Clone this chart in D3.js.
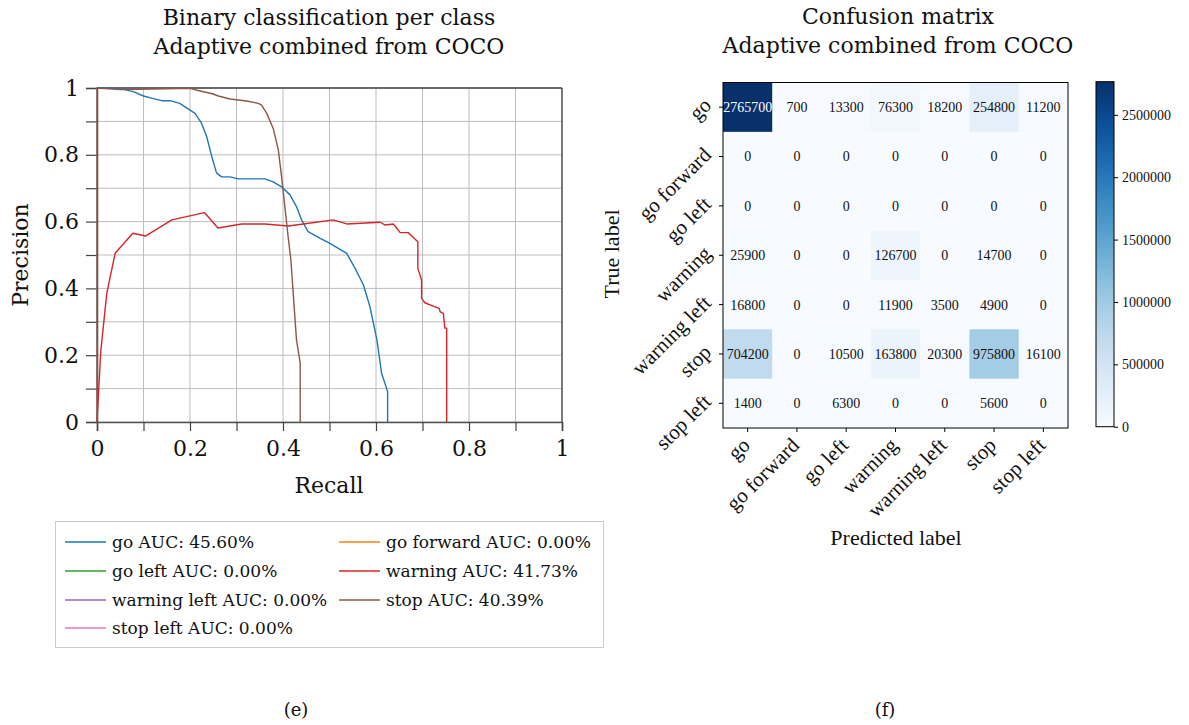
<!DOCTYPE html>
<html>
<head>
<meta charset="utf-8">
<script src="https://cdn.jsdelivr.net/npm/d3@7"></script>
<style>
  html, body { margin: 0; padding: 0; background: #fff; }
  svg { display: block; }
  .ch { font-family: "DejaVu Serif", serif; fill: #111; }
  .cm { font-family: "Liberation Serif", "Times New Roman", serif; fill: #111; }
</style>
</head>
<body>
<svg id="chart" width="1189" height="725"></svg>
<script>
// ---------------- DATA ----------------
const classes = ["go", "go forward", "go left", "warning", "warning left", "stop", "stop left"];
const aucLabels = ["45.60%", "0.00%", "0.00%", "41.73%", "0.00%", "40.39%", "0.00%"];
const classColors = ["#1f77b4", "#ff7f0e", "#2ca02c", "#d62728", "#9467bd", "#8c564b", "#e377c2"];

const goRecall    = [0.0, 0.003, 0.028, 0.057, 0.078, 0.100, 0.121, 0.139, 0.157, 0.178, 0.200, 0.211, 0.225, 0.236, 0.247, 0.257, 0.268, 0.286, 0.304, 0.329, 0.361, 0.379, 0.397, 0.415, 0.429, 0.440, 0.454, 0.480, 0.501, 0.537, 0.555, 0.573, 0.587, 0.602, 0.612, 0.625, 0.625];
const goPrecision = [1.0, 1.0, 1.0, 0.996, 0.989, 0.976, 0.968, 0.962, 0.962, 0.954, 0.934, 0.924, 0.894, 0.854, 0.794, 0.746, 0.734, 0.734, 0.728, 0.728, 0.728, 0.719, 0.704, 0.680, 0.645, 0.605, 0.570, 0.550, 0.535, 0.505, 0.460, 0.410, 0.345, 0.246, 0.146, 0.091, 0.0];

const warningRecall    = [0.0, 0.008, 0.021, 0.039, 0.077, 0.105, 0.161, 0.231, 0.260, 0.311, 0.361, 0.411, 0.444, 0.508, 0.537, 0.609, 0.619, 0.637, 0.643, 0.652, 0.669, 0.677, 0.690, 0.690, 0.698, 0.698, 0.705, 0.723, 0.736, 0.738, 0.745, 0.748, 0.752, 0.752];
const warningPrecision = [0.0, 0.210, 0.385, 0.505, 0.565, 0.557, 0.605, 0.627, 0.581, 0.593, 0.593, 0.587, 0.593, 0.605, 0.593, 0.598, 0.590, 0.593, 0.583, 0.567, 0.567, 0.557, 0.540, 0.460, 0.425, 0.370, 0.357, 0.347, 0.340, 0.330, 0.325, 0.281, 0.281, 0.0];

const stopRecall    = [0.0, 0.0, 0.05, 0.12, 0.200, 0.222, 0.250, 0.261, 0.286, 0.322, 0.347, 0.354, 0.365, 0.379, 0.390, 0.397, 0.404, 0.411, 0.417, 0.429, 0.437, 0.437];
const stopPrecision = [0.0, 1.0, 0.995, 0.997, 0.999, 0.991, 0.982, 0.976, 0.967, 0.961, 0.954, 0.949, 0.924, 0.879, 0.814, 0.734, 0.645, 0.555, 0.485, 0.246, 0.176, 0.0];

// classes with AUC 0.00% have no visible curve
const emptyRecall = [];
const emptyPrecision = [];

const curveRecalls    = [goRecall, emptyRecall, emptyRecall, warningRecall, emptyRecall, stopRecall, emptyRecall];
const curvePrecisions = [goPrecision, emptyPrecision, emptyPrecision, warningPrecision, emptyPrecision, stopPrecision, emptyPrecision];

const prTicks = [0, 0.1, 0.2, 0.3, 0.4, 0.5, 0.6, 0.7, 0.8, 0.9, 1];
const prTickLabels = ["0", "", "0.2", "", "0.4", "", "0.6", "", "0.8", "", "1"];

// confusion matrix rows = true label, cols = predicted label
const cmGo          = [2765700, 700, 13300, 76300, 18200, 254800, 11200];
const cmGoForward   = [0, 0, 0, 0, 0, 0, 0];
const cmGoLeft      = [0, 0, 0, 0, 0, 0, 0];
const cmWarning     = [25900, 0, 0, 126700, 0, 14700, 0];
const cmWarningLeft = [16800, 0, 0, 11900, 3500, 4900, 0];
const cmStop        = [704200, 0, 10500, 163800, 20300, 975800, 16100];
const cmStopLeft    = [1400, 0, 6300, 0, 0, 5600, 0];
const cmRows = [cmGo, cmGoForward, cmGoLeft, cmWarning, cmWarningLeft, cmStop, cmStopLeft];
const cbTicks = [0, 500000, 1000000, 1500000, 2000000, 2500000];

// ---------------- DRAW ----------------
const svg = d3.select("#chart");
svg.append("rect").attr("width", 1189).attr("height", 725).attr("fill", "#fff");

// ===== Left: PR curves =====
const xS = d3.scaleLinear().domain([0, 1]).range([97, 562]);
const yS = d3.scaleLinear().domain([0, 1]).range([422, 88]);
const L = svg.append("g");

// grid
L.append("g").selectAll("line").data(prTicks).join("line")
  .attr("x1", d => xS(d)).attr("x2", d => xS(d)).attr("y1", yS(0)).attr("y2", yS(1))
  .attr("stroke", "#bdbdbd").attr("stroke-width", 1);
L.append("g").selectAll("line").data(prTicks).join("line")
  .attr("y1", d => yS(d)).attr("y2", d => yS(d)).attr("x1", xS(0)).attr("x2", xS(1))
  .attr("stroke", "#bdbdbd").attr("stroke-width", 1);

// frame (top / right)
L.append("line").attr("x1", xS(0)).attr("x2", xS(1)).attr("y1", yS(1)).attr("y2", yS(1)).attr("stroke", "#444").attr("stroke-width", 1.3);
L.append("line").attr("x1", xS(1)).attr("x2", xS(1)).attr("y1", yS(0)).attr("y2", yS(1)).attr("stroke", "#444").attr("stroke-width", 1.3);

// axes
const xAx = L.append("g").attr("transform", `translate(0,${yS(0)})`)
  .call(d3.axisBottom(xS).tickValues(prTicks).tickFormat((d, i) => prTickLabels[i]).tickSize(9).tickPadding(9));
const yAx = L.append("g").attr("transform", `translate(${xS(0)},0)`)
  .call(d3.axisLeft(yS).tickValues(prTicks).tickFormat((d, i) => prTickLabels[i]).tickSize(11).tickPadding(7));
[xAx, yAx].forEach(a => {
  a.select(".domain").attr("stroke", "#555").attr("stroke-width", 1.6);
  a.selectAll(".tick line").attr("stroke", "#444").attr("stroke-width", 1.2);
  a.selectAll(".tick text").attr("class", "ch").style("font-size", "22px").attr("fill", "#111");
});

// curves
const line = d3.line().x(d => xS(d[0])).y(d => yS(d[1]));
classes.forEach((c, i) => {
  const pts = d3.zip(curveRecalls[i], curvePrecisions[i]);
  if (!pts.length) return;
  L.append("path").datum(pts).attr("d", line)
    .attr("fill", "none").attr("stroke", classColors[i]).attr("stroke-width", 1.4)
    .attr("stroke-linejoin", "round");
});

// titles / labels
L.append("text").attr("class", "ch").attr("x", 329).attr("y", 25).attr("text-anchor", "middle").style("font-size", "22px").text("Binary classification per class");
L.append("text").attr("class", "ch").attr("x", 329).attr("y", 54).attr("text-anchor", "middle").style("font-size", "22px").text("Adaptive combined from COCO");
L.append("text").attr("class", "ch").attr("x", 329).attr("y", 493).attr("text-anchor", "middle").style("font-size", "22px").text("Recall");
L.append("text").attr("class", "ch").attr("transform", "translate(28,255) rotate(-90)").attr("text-anchor", "middle").style("font-size", "22px").text("Precision");

// legend
const lg = L.append("g");
lg.append("rect").attr("x", 55.5).attr("y", 521.5).attr("width", 548).attr("height", 126)
  .attr("fill", "#fff").attr("stroke", "#cccccc").attr("stroke-width", 1);
const legCols = [65, 339];
const legRows = [542, 571, 600, 628];
classes.forEach((c, i) => {
  const cx = legCols[i % 2], cy = legRows[Math.floor(i / 2)];
  lg.append("line").attr("x1", cx).attr("x2", cx + 41).attr("y1", cy).attr("y2", cy)
    .attr("stroke", classColors[i]).attr("stroke-width", 1.4);
  lg.append("text").attr("class", "ch").attr("x", cx + 47).attr("y", cy).attr("dy", "0.35em")
    .style("font-size", "17px").text(`${c} AUC: ${aucLabels[i]}`);
});

// ===== Right: confusion matrix =====
const cx0 = 723, cx1 = 1068, cy0 = 82.5, cy1 = 428;
const bx = d3.scaleBand().domain(classes).range([cx0, cx1]);
const by = d3.scaleBand().domain(classes).range([cy0, cy1]);
const vmax = d3.max(cmRows.flat());
const color = d3.scaleSequential(d3.interpolateBlues).domain([0, vmax]);
const R = svg.append("g");

const cells = [];
cmRows.forEach((row, r) => row.forEach((v, c) => cells.push({ r: classes[r], c: classes[c], v })));
R.append("g").selectAll("rect").data(cells).join("rect")
  .attr("x", d => bx(d.c)).attr("y", d => by(d.r))
  .attr("width", bx.bandwidth() + 0.5).attr("height", by.bandwidth() + 0.5)
  .attr("fill", d => color(d.v));
R.append("rect").attr("x", cx0).attr("y", cy0).attr("width", cx1 - cx0).attr("height", cy1 - cy0)
  .attr("fill", "none").attr("stroke", "#000").attr("stroke-width", 1);
R.append("g").selectAll("text").data(cells).join("text").attr("class", "cm")
  .attr("x", d => bx(d.c) + bx.bandwidth() / 2).attr("y", d => by(d.r) + by.bandwidth() / 2)
  .attr("text-anchor", "middle").attr("dy", "0.35em").style("font-size", "14px")
  .style("fill", d => d.v > vmax / 2 ? "#fff" : "#111").text(d => String(d.v));

// axes ticks
const mxAx = R.append("g").attr("transform", `translate(0,${cy1})`)
  .call(d3.axisBottom(bx).tickSize(4).tickFormat(""));
const myAx = R.append("g").attr("transform", `translate(${cx0},0)`)
  .call(d3.axisLeft(by).tickSize(4).tickFormat(""));
[mxAx, myAx].forEach(a => { a.select(".domain").remove(); a.selectAll(".tick line").attr("stroke", "#000"); });

R.append("g").selectAll("text").data(classes).join("text").attr("class", "cm")
  .attr("transform", d => `translate(${bx(d) + bx.bandwidth() / 2 - 1},${cy1 + 14}) rotate(-45)`)
  .attr("text-anchor", "end").attr("dy", "0.3em").style("font-size", "21px").text(d => d);
R.append("g").selectAll("text").data(classes).join("text").attr("class", "cm")
  .attr("transform", d => `translate(${cx0 - 12},${by(d) + by.bandwidth() / 2 - 2}) rotate(-45)`)
  .attr("text-anchor", "end").attr("dy", "0.1em").style("font-size", "21px").text(d => d);

R.append("text").attr("class", "cm").attr("x", 896).attr("y", 545).attr("text-anchor", "middle").style("font-size", "22px").text("Predicted label");
R.append("text").attr("class", "cm").attr("transform", "translate(619,254) rotate(-90)").attr("text-anchor", "middle").style("font-size", "22px").text("True label");

R.append("text").attr("class", "ch").attr("x", 898).attr("y", 24).attr("text-anchor", "middle").style("font-size", "22px").text("Confusion matrix");
R.append("text").attr("class", "ch").attr("x", 898).attr("y", 53).attr("text-anchor", "middle").style("font-size", "22px").text("Adaptive combined from COCO");

// colorbar
const cbX = 1096, cbW = 18, cbTop = 81.7, cbBot = 426.7;
const cbS = d3.scaleLinear().domain([0, vmax]).range([cbBot, cbTop]);
const defs = svg.append("defs");
const grad = defs.append("linearGradient").attr("id", "cbg").attr("x1", 0).attr("y1", 1).attr("x2", 0).attr("y2", 0);
d3.range(0, 1.0001, 0.05).forEach(t => grad.append("stop").attr("offset", t).attr("stop-color", d3.interpolateBlues(t)));
R.append("rect").attr("x", cbX).attr("y", cbTop).attr("width", cbW).attr("height", cbBot - cbTop)
  .attr("fill", "url(#cbg)").attr("stroke", "#000").attr("stroke-width", 1);
const cbAx = R.append("g").attr("transform", `translate(${cbX + cbW},0)`)
  .call(d3.axisRight(cbS).tickValues(cbTicks).tickSize(4).tickPadding(4).tickFormat(d3.format("d")));
cbAx.select(".domain").remove();
cbAx.selectAll(".tick line").attr("stroke", "#000");
cbAx.selectAll(".tick text").attr("class", "cm").style("font-size", "14px").attr("fill", "#111");

// captions
svg.append("text").attr("class", "ch").attr("x", 296).attr("y", 716).attr("text-anchor", "middle").style("font-size", "18px").text("(e)");
svg.append("text").attr("class", "ch").attr("x", 885).attr("y", 716).attr("text-anchor", "middle").style("font-size", "18px").text("(f)");
</script>
</body>
</html>
